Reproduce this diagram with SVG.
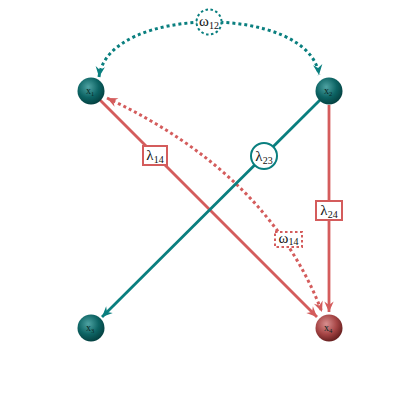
<svg xmlns="http://www.w3.org/2000/svg" width="420" height="420" viewBox="0 0 420 420">
<style>
.teal{stroke:#0a7f7f;fill:none}
.red{stroke:#d45c5c;fill:none}
.solid{stroke-width:2.8}
.dot{stroke-width:3;stroke-dasharray:3 3}
.box{fill:#fff;stroke-width:2}
.boxt{stroke:#0a7f7f}
.boxr{stroke:#d45c5c}
.dash{stroke-dasharray:2.5 2.5}
.lbl{font-family:"Liberation Serif",serif;font-size:15px;fill:#111;text-anchor:middle}
.sub{font-size:10px}
.nl{font-family:"Liberation Serif",serif;font-size:10px;fill:#0b2626;text-anchor:middle}
</style>
<defs>
<radialGradient id="gt" cx="0.4" cy="0.35" r="0.7">
<stop offset="0" stop-color="#4fa3a3"/>
<stop offset="0.55" stop-color="#0d6464"/>
<stop offset="1" stop-color="#033c3c"/>
</radialGradient>
<radialGradient id="gr" cx="0.4" cy="0.35" r="0.7">
<stop offset="0" stop-color="#d88f8f"/>
<stop offset="0.55" stop-color="#a64545"/>
<stop offset="1" stop-color="#5e1a1a"/>
</radialGradient>
<marker id="at" markerUnits="userSpaceOnUse" markerWidth="14" markerHeight="14" viewBox="-10 -6 12 12" refX="0" refY="0" orient="auto-start-reverse">
<path d="M0,0 L-9,-4 L-6,0 L-9,4 z" fill="#0a7f7f"/>
</marker>
<marker id="ar" markerUnits="userSpaceOnUse" markerWidth="14" markerHeight="14" viewBox="-10 -6 12 12" refX="0" refY="0" orient="auto-start-reverse">
<path d="M0,0 L-9,-4 L-6,0 L-9,4 z" fill="#d45c5c"/>
</marker>
</defs>
<g id="connectors">
<path class="teal dot" d="M 99 77 C 108 4, 310 4, 319 75" marker-start="url(#at)" marker-end="url(#at)"/>
<path class="red dot" d="M 107 98 Q 269 174 322 312" marker-start="url(#ar)" marker-end="url(#ar)"/>
<line class="red solid" x1="100" y1="100" x2="317" y2="317" marker-end="url(#ar)"/>
<line class="teal solid" x1="320" y1="100" x2="102" y2="317" marker-end="url(#at)"/>
<line class="red solid" x1="329" y1="105" x2="329" y2="312" marker-end="url(#ar)"/>
<g id="w12">
<circle cx="209" cy="22" r="12.5" class="box boxt dash"/>
<text class="lbl" x="209" y="26" font-size="13">ω<tspan class="sub" font-size="9" dy="3">12</tspan></text>
</g>
<g id="l14">
<rect x="143" y="146" width="24" height="19" class="box boxr"/>
<text class="lbl" x="155" y="160">λ<tspan class="sub" dy="3">14</tspan></text>
</g>
<g id="l23">
<circle cx="264" cy="156" r="13" class="box boxt"/>
<text class="lbl" x="264" y="161">λ<tspan class="sub" dy="3">23</tspan></text>
</g>
<g id="l24">
<rect x="316" y="201" width="26" height="19" class="box boxr"/>
<text class="lbl" x="329" y="215">λ<tspan class="sub" dy="3">24</tspan></text>
</g>
<g id="w14">
<rect x="275" y="232" width="27" height="15" class="box boxr dash"/>
<text class="lbl" x="288.5" y="243" font-size="13">ω<tspan class="sub" font-size="9" dy="2">14</tspan></text>
</g>
</g>
<g id="x1">
<circle cx="91" cy="91" r="13.5" fill="url(#gt)"/>
<text class="nl" x="90" y="94">x<tspan font-size="6.5" dy="2">1</tspan></text>
</g>
<g id="x2">
<circle cx="329" cy="91" r="13.5" fill="url(#gt)"/>
<text class="nl" x="328" y="94">x<tspan font-size="6.5" dy="2">2</tspan></text>
</g>
<g id="x3">
<circle cx="91" cy="328" r="13.5" fill="url(#gt)"/>
<text class="nl" x="90" y="331">x<tspan font-size="6.5" dy="2">3</tspan></text>
</g>
<g id="x4">
<circle cx="329" cy="328" r="13.5" fill="url(#gr)"/>
<text class="nl" x="328" y="331" fill="#2a0d0d">x<tspan font-size="6.5" dy="2">4</tspan></text>
</g>
</svg>
